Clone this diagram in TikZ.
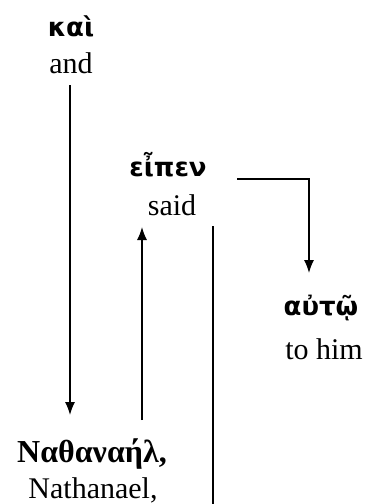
\documentclass[tikz,border=0pt]{standalone}
\usepackage{fontspec}
\setmainfont{Liberation Serif}
\newfontfamily\grksans{DejaVu Sans}
\usetikzlibrary{arrows.meta}
\tikzset{
  eng/.style={anchor=base, inner sep=0pt, font=\fontsize{30}{32}\selectfont},
  grk/.style={anchor=base, inner sep=0pt, font=\grksans\bfseries\fontsize{26}{28}\selectfont},
  grkb/.style={anchor=base, inner sep=0pt, font=\bfseries\fontsize{32}{34}\selectfont},
  conn/.style={line width=1.4pt},
  arr/.style={conn, -{Latex[length=13pt,width=10pt]}}
}
\begin{document}
\begin{tikzpicture}[x=1pt,y=-1pt]
\useasboundingbox (0,0) rectangle (372,504);
\node[grk] (kai) at (71,36) {καὶ};
\node[eng] (and) at (71,73) {and};
\node[grk] (eipen) at (168,176) {εἶπεν};
\node[eng] (said) at (172,215) {said};
\node[grk] (autw) at (321,315) {αὐτῷ};
\node[eng] (him) at (324,359) {to him};
\node[grkb] (nathG) at (92,462) {Ναθαναήλ,};
\node[eng] (nath) at (93,498) {Nathanael,};
\draw[arr] ([shift={(-1,12)}]and.base) -- ([shift={(-22,-47)}]nathG.base);
\draw[arr] ([shift={(50,-42)}]nathG.base) -- ([shift={(-30,12)}]said.base);
\draw[conn] ([shift={(41,11)}]said.base) -- ([shift={(120,6)}]nath.base);
\draw[arr] ([shift={(69,3)}]eipen.base) -| ([shift={(-12,-42)}]autw.base);
\end{tikzpicture}
\end{document}
